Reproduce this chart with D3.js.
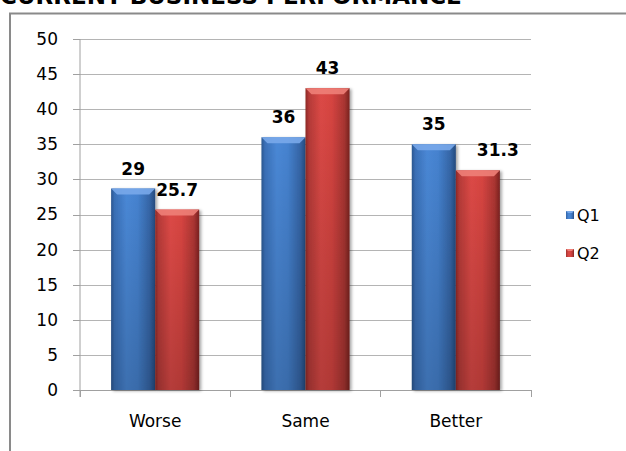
<!DOCTYPE html>
<html>
<head>
<meta charset="utf-8">
<script src="https://cdn.jsdelivr.net/npm/d3@7"></script>
<style>
  html, body { margin: 0; padding: 0; background: #fff; }
  svg { display: block; }
  text { font-family: "DejaVu Sans", Verdana, sans-serif; }
</style>
</head>
<body>
<script>
// ---- data ----
const title = "CURRENT BUSINESS PERFORMANCE";
const categories = ["Worse", "Same", "Better"];
const seriesNames = ["Q1", "Q2"];
const q1Values = [28.7, 36, 35];
const q2Values = [25.7, 43, 31.3];
const q1Labels = ["29", "36", "35"];
const q2Labels = ["25.7", "43", "31.3"];
const yTicks = [0, 5, 10, 15, 20, 25, 30, 35, 40, 45, 50];

const W = 626, H = 451;
const svg = d3.select("body").append("svg").attr("width", W).attr("height", H);
const defs = svg.append("defs");

const palettes = {
  Q1: { stops: ["#2b5690", "#3a70b8", "#4a88d6", "#4582cf", "#3565a6", "#244a7e"], bevel: "#79a9ea" },
  Q2: { stops: ["#8e2826", "#b63b38", "#dc4946", "#d64441", "#aa3532", "#7a2220"], bevel: "#ee8078" }
};
seriesNames.forEach(s => {
  const g = defs.append("linearGradient").attr("id", "grad-" + s)
    .attr("x1", "0%").attr("x2", "100%").attr("y1", "0%").attr("y2", "0%");
  const offs = [0, 0.08, 0.35, 0.6, 0.88, 1];
  palettes[s].stops.forEach((c, i) => g.append("stop").attr("offset", offs[i]).attr("stop-color", c));
});
const vg = defs.append("linearGradient").attr("id", "vshade")
  .attr("x1", "0").attr("x2", "0").attr("y1", "0").attr("y2", "1");
vg.append("stop").attr("offset", 0).attr("stop-color", "#000").attr("stop-opacity", 0);
vg.append("stop").attr("offset", 1).attr("stop-color", "#000").attr("stop-opacity", 0.18);
const shadow = defs.append("filter").attr("id", "shadow").attr("x", "-20%").attr("y", "-5%").attr("width", "150%").attr("height", "115%");
shadow.append("feDropShadow").attr("dx", 2).attr("dy", 1).attr("stdDeviation", 1.5).attr("flood-color", "#000").attr("flood-opacity", 0.35);

// title (mostly cut off at top, as in the reference)
svg.append("text").attr("x", 0).attr("y", 4)
  .attr("font-size", 23).attr("font-weight", "bold").attr("fill", "#000").text(title);

// frame
svg.append("path").attr("d", `M10,${H} L10,13.5 L${W},13.5`)
  .attr("fill", "none").attr("stroke", "#8a8a8a").attr("stroke-width", 2);

// scales
const plot = { left: 80, right: 531, top: 39, bottom: 390 };
const y = d3.scaleLinear().domain([0, 50]).range([plot.bottom, plot.top]);
const x0 = d3.scaleBand().domain(categories).range([plot.left, plot.right]).paddingInner(0).paddingOuter(0);
const bw = x0.bandwidth();
const x1 = d3.scaleBand().domain(seriesNames).range([bw * 0.207, bw * 0.793]).padding(0);

// gridlines
const grid = svg.append("g").attr("transform", `translate(${plot.left},0)`)
  .call(d3.axisLeft(y).tickValues(yTicks).tickSize(-(plot.right - plot.left)).tickFormat(""));
grid.select(".domain").remove();
grid.selectAll("line").attr("stroke", "#b4b4b4").attr("stroke-width", 1)
  .attr("shape-rendering", "crispEdges");
grid.selectAll("line").filter(d => d === 0).remove();

// y axis
const yAxis = svg.append("g").attr("transform", `translate(${plot.left},0)`)
  .call(d3.axisLeft(y).tickValues(yTicks).tickSize(7).tickPadding(15).tickSizeOuter(0));
yAxis.select(".domain").attr("stroke", "#a0a0a0").attr("d", `M0,${plot.top}V${plot.bottom + 7}`);
yAxis.selectAll("line").attr("stroke", "#a0a0a0").attr("shape-rendering", "crispEdges");
yAxis.selectAll("text").attr("font-size", 17).attr("fill", "#000")
  .attr("font-family", "'DejaVu Sans', Verdana, sans-serif");

// x axis
const xAxis = svg.append("g").attr("transform", `translate(0,${plot.bottom})`)
  .call(d3.axisBottom(x0).tickSize(0).tickPadding(25).tickSizeOuter(0));
xAxis.select(".domain").attr("stroke", "#a0a0a0").attr("shape-rendering", "crispEdges");
xAxis.selectAll("text").attr("font-size", 17).attr("fill", "#000")
  .attr("font-family", "'DejaVu Sans', Verdana, sans-serif");
const boundaries = categories.map(c => x0(c)).concat([x0.range()[1]]);
xAxis.selectAll("line.bound").data(boundaries).enter().append("line").attr("class", "bound")
  .attr("x1", d => d).attr("x2", d => d).attr("y1", 0).attr("y2", 7)
  .attr("stroke", "#a0a0a0").attr("shape-rendering", "crispEdges");

// bars
const rows = categories.map((c, i) => ({
  cat: c,
  items: [
    { s: "Q1", v: q1Values[i], label: q1Labels[i] },
    { s: "Q2", v: q2Values[i], label: q2Labels[i] }
  ]
}));
const labelNudge = { "Better-Q2": 20 };

const groups = svg.append("g").selectAll("g.cat").data(rows).enter().append("g")
  .attr("class", "cat").attr("transform", d => `translate(${x0(d.cat)},0)`);

const bars = groups.selectAll("g.bar").data(d => d.items.map(it => Object.assign({ cat: d.cat }, it)))
  .enter().append("g").attr("class", "bar");

bars.append("rect")
  .attr("x", d => x1(d.s)).attr("width", x1.bandwidth())
  .attr("y", d => y(d.v)).attr("height", d => y(0) - y(d.v))
  .attr("fill", d => `url(#grad-${d.s})`).attr("filter", "url(#shadow)");
bars.append("rect")
  .attr("x", d => x1(d.s)).attr("width", x1.bandwidth())
  .attr("y", d => y(d.v)).attr("height", d => y(0) - y(d.v))
  .attr("fill", "url(#vshade)");
bars.append("path")
  .attr("d", d => {
    const xl = x1(d.s), xr = xl + x1.bandwidth(), yt = y(d.v), b = 6;
    return `M${xl},${yt}L${xr},${yt}L${xr - b},${yt + b}L${xl + b},${yt + b}Z`;
  })
  .attr("fill", d => palettes[d.s].bevel).attr("opacity", 0.9);

bars.append("text")
  .attr("x", d => x1(d.s) + x1.bandwidth() / 2 + (labelNudge[d.cat + "-" + d.s] || 0))
  .attr("y", d => y(d.v) - 14)
  .attr("text-anchor", "middle").attr("font-size", 17).attr("font-weight", "bold")
  .attr("fill", "#000").text(d => d.label);

// legend
const legend = svg.append("g").attr("transform", "translate(566,0)");
const legY = [215, 253];
seriesNames.forEach((s, i) => {
  legend.append("rect").attr("x", 0).attr("y", legY[i] - 4).attr("width", 8).attr("height", 8)
    .attr("fill", `url(#grad-${s})`);
  legend.append("path")
    .attr("d", `M0,${legY[i] - 4}L8,${legY[i] - 4}L6,${legY[i] - 2}L2,${legY[i] - 2}Z`)
    .attr("fill", palettes[s].bevel);
  legend.append("text").attr("x", 11).attr("y", legY[i] + 6)
    .attr("font-size", 16).attr("fill", "#000").text(s);
});
</script>
</body>
</html>
